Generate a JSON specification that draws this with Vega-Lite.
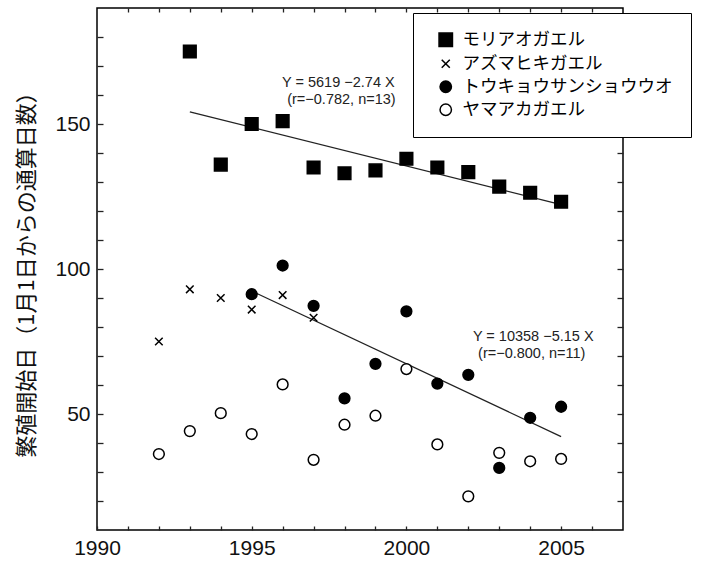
{
  "$schema": "https://vega.github.io/schema/vega-lite/v6.json",
  "width": 526,
  "height": 522,
  "autosize": "none",
  "padding": {"left": 97, "top": 8, "right": 86, "bottom": 32},
  "background": "white",
  "config": {
    "view": {"stroke": "black", "strokeWidth": 1.5},
    "axis": {"grid": false, "domain": false, "labelColor": "#111", "labelFont": "Liberation Sans", "labelFontSize": 21, "labelFlush": false},
    "legend": {
      "orient": "none", "legendX": 316, "legendY": 5,
      "strokeColor": "black", "fillColor": "white", "padding": 18,
      "labelFont": "Noto Sans CJK JP", "labelFontSize": 17.5, "labelColor": "black",
      "symbolSize": 180, "symbolStrokeWidth": 1.5,
      "rowPadding": 4, "labelOffset": 8, "symbolOffset": 6, "labelLimit": 400
    }
  },
  "datasets": {
    "pts": [
      {"year": 1993, "value": 175, "species": "モリアオガエル"},
      {"year": 1994, "value": 136, "species": "モリアオガエル"},
      {"year": 1995, "value": 150, "species": "モリアオガエル"},
      {"year": 1996, "value": 151, "species": "モリアオガエル"},
      {"year": 1997, "value": 135, "species": "モリアオガエル"},
      {"year": 1998, "value": 133, "species": "モリアオガエル"},
      {"year": 1999, "value": 134, "species": "モリアオガエル"},
      {"year": 2000, "value": 138, "species": "モリアオガエル"},
      {"year": 2001, "value": 135, "species": "モリアオガエル"},
      {"year": 2002, "value": 133.4, "species": "モリアオガエル"},
      {"year": 2003, "value": 128.4, "species": "モリアオガエル"},
      {"year": 2004, "value": 126.3, "species": "モリアオガエル"},
      {"year": 2005, "value": 123.2, "species": "モリアオガエル"},
      {"year": 1992, "value": 75, "species": "アズマヒキガエル"},
      {"year": 1993, "value": 93, "species": "アズマヒキガエル"},
      {"year": 1994, "value": 90, "species": "アズマヒキガエル"},
      {"year": 1995, "value": 86, "species": "アズマヒキガエル"},
      {"year": 1996, "value": 91, "species": "アズマヒキガエル"},
      {"year": 1997, "value": 83.2, "species": "アズマヒキガエル"},
      {"year": 1995, "value": 91.3, "species": "トウキョウサンショウウオ"},
      {"year": 1996, "value": 101.2, "species": "トウキョウサンショウウオ"},
      {"year": 1997, "value": 87.3, "species": "トウキョウサンショウウオ"},
      {"year": 1998, "value": 55.4, "species": "トウキョウサンショウウオ"},
      {"year": 1999, "value": 67.3, "species": "トウキョウサンショウウオ"},
      {"year": 2000, "value": 85.4, "species": "トウキョウサンショウウオ"},
      {"year": 2001, "value": 60.5, "species": "トウキョウサンショウウオ"},
      {"year": 2002, "value": 63.5, "species": "トウキョウサンショウウオ"},
      {"year": 2003, "value": 31.4, "species": "トウキョウサンショウウオ"},
      {"year": 2004, "value": 48.7, "species": "トウキョウサンショウウオ"},
      {"year": 2005, "value": 52.5, "species": "トウキョウサンショウウオ"},
      {"year": 1992, "value": 36.2, "species": "ヤマアカガエル"},
      {"year": 1993, "value": 44.1, "species": "ヤマアカガエル"},
      {"year": 1994, "value": 50.3, "species": "ヤマアカガエル"},
      {"year": 1995, "value": 43.1, "species": "ヤマアカガエル"},
      {"year": 1996, "value": 60.2, "species": "ヤマアカガエル"},
      {"year": 1997, "value": 34.2, "species": "ヤマアカガエル"},
      {"year": 1998, "value": 46.3, "species": "ヤマアカガエル"},
      {"year": 1999, "value": 49.4, "species": "ヤマアカガエル"},
      {"year": 2000, "value": 65.5, "species": "ヤマアカガエル"},
      {"year": 2001, "value": 39.5, "species": "ヤマアカガエル"},
      {"year": 2002, "value": 21.6, "species": "ヤマアカガエル"},
      {"year": 2003, "value": 36.6, "species": "ヤマアカガエル"},
      {"year": 2004, "value": 33.7, "species": "ヤマアカガエル"},
      {"year": 2005, "value": 34.5, "species": "ヤマアカガエル"}
    ],
    "fits": [
      {"year": 1993, "value": 154.2, "fit": "A"},
      {"year": 2005, "value": 122.2, "fit": "A"},
      {"year": 1995, "value": 92.4, "fit": "B"},
      {"year": 2005, "value": 42.2, "fit": "B"}
    ],
    "notes": [
      {"year": 1997.8, "value": 164.1, "label": "Y = 5619 −2.74 X"},
      {"year": 1997.9, "value": 158.2, "label": "(r=−0.782, n=13)"},
      {"year": 2004.1, "value": 76.4, "label": "Y = 10358 −5.15 X"},
      {"year": 2004.05, "value": 70.6, "label": "(r=−0.800, n=11)"}
    ]
  },
  "layer": [
    {
      "data": {"name": "fits"},
      "mark": {"type": "line", "color": "#222", "strokeWidth": 1.3},
      "encoding": {
        "x": {"field": "year", "type": "quantitative", "scale": {"domain": [1990, 2007], "nice": false, "zero": false},
              "axis": {"orient": "top", "labels": false, "title": null, "tickSize": 4, "offset": -4, "tickColor": "#222", "tickWidth": 1.3, "values": [1991,1992,1993,1994,1995,1996,1997,1998,1999,2000,2001,2002,2003,2004,2005,2006]}},
        "y": {"field": "value", "type": "quantitative", "scale": {"domain": [10, 190], "nice": false, "zero": false},
              "axis": {"orient": "right", "labels": false, "title": null, "tickSize": 6, "offset": -6, "tickColor": "#222", "tickWidth": 1.3, "values": [20,30,40,50,60,70,80,90,100,110,120,130,140,150,160,170,180]}},
        "detail": {"field": "fit"}
      }
    },
    {
      "data": {"name": "pts"},
      "mark": {"type": "point", "filled": true, "strokeWidth": 1.5, "opacity": 1, "size": 160},
      "encoding": {
        "x": {"field": "year", "type": "quantitative", "scale": {"domain": [1990, 2007], "nice": false, "zero": false},
              "axis": {"orient": "bottom", "title": null, "tickSize": 4, "offset": -4, "tickColor": "#222", "tickWidth": 1.3, "labelPadding": 7, "format": "d",
                       "values": [1990,1991,1992,1993,1994,1995,1996,1997,1998,1999,2000,2001,2002,2003,2004,2005,2006],
                       "labelExpr": "datum.value % 5 === 0 ? datum.label : ''"}},
        "y": {"field": "value", "type": "quantitative", "scale": {"domain": [10, 190], "nice": false, "zero": false},
              "axis": {"orient": "left", "title": "繁殖開始日（1月1日からの通算日数）", "tickSize": 6, "offset": -6, "tickColor": "#222", "tickWidth": 1.3, "labelPadding": 7,
                       "titleFont": "Noto Sans CJK JP", "titleFontSize": 22, "titleFontWeight": "normal", "titleColor": "#111", "titlePadding": 16,
                       "values": [20,30,40,50,60,70,80,90,100,110,120,130,140,150,160,170,180],
                       "labelExpr": "datum.value % 50 === 0 ? datum.label : ''"}},
        "fill": {"field": "species", "type": "nominal",
                 "scale": {"domain": ["モリアオガエル", "アズマヒキガエル", "トウキョウサンショウウオ", "ヤマアカガエル"], "range": ["black", "black", "black", "white"]},
                 "legend": {"title": null}},
        "stroke": {"field": "species", "type": "nominal",
                 "scale": {"domain": ["モリアオガエル", "アズマヒキガエル", "トウキョウサンショウウオ", "ヤマアカガエル"], "range": ["black", "black", "black", "black"]},
                 "legend": {"title": null}},
        "shape": {"field": "species", "type": "nominal",
                  "scale": {"domain": ["モリアオガエル", "アズマヒキガエル", "トウキョウサンショウウオ", "ヤマアカガエル"],
                            "range": ["square", "M-0.6,-0.6L0.6,0.6M0.6,-0.6L-0.6,0.6", "M-0.85,0A0.85,0.85 0 1,0 0.85,0A0.85,0.85 0 1,0 -0.85,0Z", "M-0.85,0A0.85,0.85 0 1,0 0.85,0A0.85,0.85 0 1,0 -0.85,0Z"]},
                  "legend": {"title": null}}
      }
    },
    {
      "data": {"name": "notes"},
      "mark": {"type": "text", "font": "Liberation Sans", "fontSize": 14.5, "color": "#222", "align": "center", "baseline": "middle"},
      "encoding": {
        "x": {"field": "year", "type": "quantitative", "axis": null},
        "y": {"field": "value", "type": "quantitative", "axis": null},
        "text": {"field": "label"}
      }
    }
  ],
  "resolve": {"axis": {"x": "independent", "y": "independent"}}
}
